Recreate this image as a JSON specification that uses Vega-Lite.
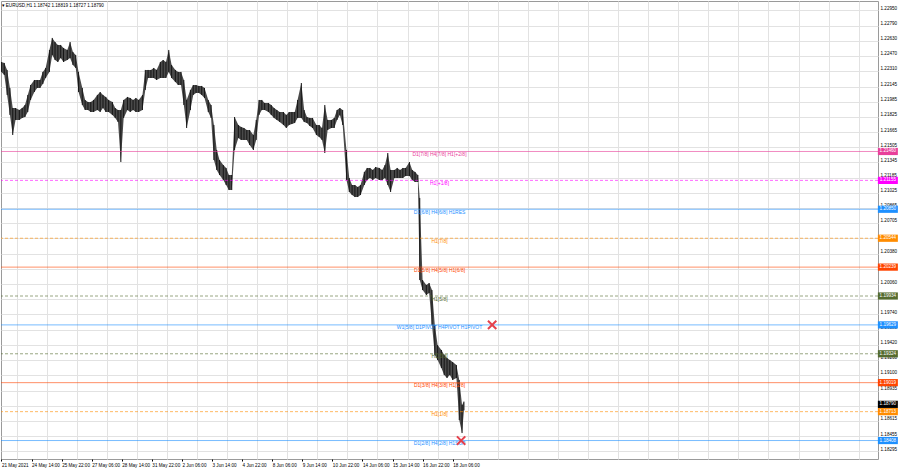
{
  "$schema": "https://vega.github.io/schema/vega-lite/v6.json",
  "width": 877,
  "height": 458,
  "autosize": {"type": "none"},
  "padding": {"left": 1, "top": 1, "right": 22, "bottom": 9},
  "background": "#ffffff",
  "title": {
    "text": "▾ EURUSD,H1  1.18742 1.18819 1.18727 1.18790",
    "anchor": "start",
    "orient": "top",
    "offset": -7,
    "dx": 1,
    "fontSize": 4.6,
    "fontWeight": "normal",
    "font": "Liberation Sans",
    "color": "#000000"
  },
  "config": {
    "view": {"stroke": "#9a9a9a"},
    "axis": {
      "domain": false,
      "labelFont": "Liberation Sans",
      "labelFontSize": 4.6,
      "labelColor": "#000000",
      "gridColor": "#e2e2e2",
      "gridWidth": 1,
      "title": null,
      "labelOverlap": false,
      "labelBound": false,
      "labelFlush": false,
      "tickCount": 1000
    }
  },
  "datasets": {
    "bars": [
      {"i":0,"h":1.22405,"l":1.22300},{"i":3,"h":1.22395,"l":1.22268},{"i":6,"h":1.22321,"l":1.22057},{"i":9,"h":1.22131,"l":1.21846},
      {"i":12,"h":1.21919,"l":1.21634},{"i":15,"h":1.21919,"l":1.21793},{"i":19,"h":1.21898,"l":1.21793},{"i":22,"h":1.21919,"l":1.21814},
      {"i":25,"h":1.21951,"l":1.21824},{"i":28,"h":1.22057,"l":1.21877},{"i":31,"h":1.22162,"l":1.22004},{"i":35,"h":1.22215,"l":1.22088},
      {"i":38,"h":1.22215,"l":1.22131},{"i":41,"h":1.22215,"l":1.22131},{"i":44,"h":1.22300,"l":1.22173},{"i":47,"h":1.22342,"l":1.22236},
      {"i":51,"h":1.22532,"l":1.22300},{"i":54,"h":1.22659,"l":1.22479},{"i":57,"h":1.22616,"l":1.22426},{"i":60,"h":1.22585,"l":1.22405},
      {"i":63,"h":1.22585,"l":1.22447},{"i":66,"h":1.22553,"l":1.22405},{"i":70,"h":1.22532,"l":1.22426},{"i":73,"h":1.22616,"l":1.22447},
      {"i":76,"h":1.22511,"l":1.22374},{"i":79,"h":1.22479,"l":1.22342},{"i":82,"h":1.22300,"l":1.22088},{"i":86,"h":1.22131,"l":1.21951},
      {"i":89,"h":1.22004,"l":1.21898},{"i":92,"h":1.21983,"l":1.21898},{"i":95,"h":1.21983,"l":1.21877},{"i":98,"h":1.22004,"l":1.21877},
      {"i":102,"h":1.22057,"l":1.21898},{"i":105,"h":1.22088,"l":1.21877},{"i":108,"h":1.22057,"l":1.21919},{"i":111,"h":1.22036,"l":1.21877},
      {"i":114,"h":1.22004,"l":1.21877},{"i":118,"h":1.21983,"l":1.21846},{"i":121,"h":1.21919,"l":1.21814},{"i":124,"h":1.21898,"l":1.21772},
      {"i":127,"h":1.21898,"l":1.21349},{"i":130,"h":1.22004,"l":1.21814},{"i":134,"h":1.22036,"l":1.21898},{"i":137,"h":1.22025,"l":1.21877},
      {"i":140,"h":1.22004,"l":1.21898},{"i":143,"h":1.22025,"l":1.21877},{"i":146,"h":1.22004,"l":1.21877},{"i":150,"h":1.22057,"l":1.21898},
      {"i":153,"h":1.22321,"l":1.22110},{"i":156,"h":1.22321,"l":1.22236},{"i":159,"h":1.22321,"l":1.22236},{"i":162,"h":1.22342,"l":1.22236},
      {"i":165,"h":1.22321,"l":1.22215},{"i":169,"h":1.22405,"l":1.22236},{"i":172,"h":1.22426,"l":1.22236},{"i":175,"h":1.22405,"l":1.22236},
      {"i":178,"h":1.22532,"l":1.22300},{"i":181,"h":1.22374,"l":1.22236},{"i":185,"h":1.22321,"l":1.22194},{"i":188,"h":1.22300,"l":1.22162},
      {"i":191,"h":1.22300,"l":1.22162},{"i":194,"h":1.22215,"l":1.21951},{"i":197,"h":1.22004,"l":1.21708},{"i":201,"h":1.22110,"l":1.21898},
      {"i":204,"h":1.22162,"l":1.22057},{"i":207,"h":1.22162,"l":1.22078},{"i":210,"h":1.22152,"l":1.22078},{"i":213,"h":1.22152,"l":1.22057},
      {"i":216,"h":1.22131,"l":1.22025},{"i":220,"h":1.22004,"l":1.21877},{"i":223,"h":1.21951,"l":1.21814},{"i":226,"h":1.21740,"l":1.21370},
      {"i":229,"h":1.21476,"l":1.21265},{"i":232,"h":1.21370,"l":1.21212},{"i":236,"h":1.21317,"l":1.21159},{"i":239,"h":1.21286,"l":1.21106},
      {"i":242,"h":1.21212,"l":1.21053},{"i":245,"h":1.21212,"l":1.21053},{"i":248,"h":1.21824,"l":1.21476},{"i":252,"h":1.21740,"l":1.21603},
      {"i":255,"h":1.21719,"l":1.21582},{"i":258,"h":1.21708,"l":1.21582},{"i":261,"h":1.21687,"l":1.21582},{"i":264,"h":1.21687,"l":1.21529},
      {"i":268,"h":1.21634,"l":1.21476},{"i":271,"h":1.21793,"l":1.21582},{"i":274,"h":1.22004,"l":1.21846},{"i":277,"h":1.22004,"l":1.21898},
      {"i":280,"h":1.21972,"l":1.21898},{"i":284,"h":1.21972,"l":1.21877},{"i":287,"h":1.21951,"l":1.21846},{"i":290,"h":1.21919,"l":1.21814},
      {"i":293,"h":1.21898,"l":1.21793},{"i":296,"h":1.21877,"l":1.21772},{"i":300,"h":1.21877,"l":1.21740},{"i":303,"h":1.21846,"l":1.21708},
      {"i":306,"h":1.21877,"l":1.21740},{"i":309,"h":1.21877,"l":1.21750},{"i":312,"h":1.21877,"l":1.21761},{"i":315,"h":1.22004,"l":1.21814},
      {"i":319,"h":1.22183,"l":1.21814},{"i":322,"h":1.21898,"l":1.21772},{"i":325,"h":1.21824,"l":1.21761},{"i":328,"h":1.21814,"l":1.21729},
      {"i":331,"h":1.21814,"l":1.21708},{"i":335,"h":1.21740,"l":1.21634},{"i":338,"h":1.21740,"l":1.21613},{"i":341,"h":1.21708,"l":1.21582},
      {"i":344,"h":1.21951,"l":1.21444},{"i":347,"h":1.21793,"l":1.21687},{"i":351,"h":1.21793,"l":1.21708},{"i":354,"h":1.21814,"l":1.21708},
      {"i":357,"h":1.21898,"l":1.21793},{"i":360,"h":1.21919,"l":1.21846},{"i":363,"h":1.21898,"l":1.21740},{"i":367,"h":1.21476,"l":1.21159},
      {"i":370,"h":1.21180,"l":1.21032},{"i":373,"h":1.21106,"l":1.21001},{"i":376,"h":1.21106,"l":1.20979},{"i":379,"h":1.21085,"l":1.20979},
      {"i":382,"h":1.21106,"l":1.21001},{"i":386,"h":1.21244,"l":1.21106},{"i":389,"h":1.21286,"l":1.21159},{"i":392,"h":1.21286,"l":1.21180},
      {"i":395,"h":1.21265,"l":1.21159},{"i":398,"h":1.21296,"l":1.21180},{"i":402,"h":1.21286,"l":1.21159},{"i":405,"h":1.21265,"l":1.21159},
      {"i":408,"h":1.21317,"l":1.21180},{"i":411,"h":1.21444,"l":1.21106},{"i":414,"h":1.21265,"l":1.21032},{"i":418,"h":1.21265,"l":1.21180},
      {"i":421,"h":1.21286,"l":1.21180},{"i":424,"h":1.21265,"l":1.21180},{"i":427,"h":1.21286,"l":1.21180},{"i":430,"h":1.21286,"l":1.21201},
      {"i":434,"h":1.21349,"l":1.21201},{"i":437,"h":1.21265,"l":1.21159},{"i":440,"h":1.21244,"l":1.21138},{"i":443,"h":1.21212,"l":1.21138},
      {"i":445,"h":1.20969,"l":1.20103},{"i":448,"h":1.20103,"l":1.19997},{"i":452,"h":1.20050,"l":1.19944},{"i":455,"h":1.20071,"l":1.19966},
      {"i":458,"h":1.19997,"l":1.19628},{"i":461,"h":1.19628,"l":1.19311},{"i":464,"h":1.19416,"l":1.19258},{"i":468,"h":1.19364,"l":1.19174},
      {"i":471,"h":1.19311,"l":1.19100},{"i":474,"h":1.19279,"l":1.19068},{"i":477,"h":1.19258,"l":1.19100},{"i":480,"h":1.19237,"l":1.19047},
      {"i":484,"h":1.19205,"l":1.19068},{"i":487,"h":1.19047,"l":1.18624},{"i":490,"h":1.18783,"l":1.18487},{"i":492,"h":1.18819,"l":1.18727}
    ],
    "levels": [
      {"p":1.21460,"lbl":"D1[7/8] H4[7/8] H1[+2/8]","lvl":"+2/8","tf":"D1"},
      {"p":1.21155,"lbl":"H1[+1/8]","lvl":"+1/8","tf":"H1"},
      {"p":1.20850,"lbl":"D1[6/8] H4[6/8] H1RES","lvl":"8/8","tf":"D1"},
      {"p":1.20544,"lbl":"H1[7/8]","lvl":"7/8","tf":"H1"},
      {"p":1.20239,"lbl":"D1[5/8] H4[5/8] H1[6/8]","lvl":"6/8","tf":"D1"},
      {"p":1.19934,"lbl":"H1[5/8]","lvl":"5/8","tf":"H1"},
      {"p":1.19629,"lbl":"W1[5/8] D1PIVOT H4PIVOT H1PIVOT","lvl":"4/8","tf":"D1"},
      {"p":1.19324,"lbl":"H1[3/8]","lvl":"3/8","tf":"H1"},
      {"p":1.19019,"lbl":"D1[3/8] H4[3/8] H1[2/8]","lvl":"2/8","tf":"D1"},
      {"p":1.18713,"lbl":"H1[1/8]","lvl":"1/8","tf":"H1"},
      {"p":1.18408,"lbl":"D1[2/8] H4[2/8] H1SUP","lvl":"0/8","tf":"D1"}
    ],
    "tags": [
      {"p":1.21460,"lvl":"+2/8"},{"p":1.21155,"lvl":"+1/8"},{"p":1.20850,"lvl":"8/8"},{"p":1.20544,"lvl":"7/8"},
      {"p":1.20239,"lvl":"6/8"},{"p":1.19934,"lvl":"5/8"},{"p":1.19629,"lvl":"4/8"},{"p":1.19324,"lvl":"3/8"},
      {"p":1.19019,"lvl":"2/8"},{"p":1.18713,"lvl":"1/8"},{"p":1.18408,"lvl":"0/8"},{"p":1.18790,"lvl":"bid"}
    ],
    "crosses": [
      {"i":522,"p":1.19629},
      {"i":489,"p":1.18408}
    ]
  },
  "layer": [
    {
      "data": {"name": "bars"},
      "mark": {"type": "area", "color": "#4a4a4a", "interpolate": "linear"},
      "encoding": {
        "x": {
          "field": "i", "type": "quantitative",
          "scale": {"domain": [-0.5, 932.5], "nice": false, "zero": false},
          "axis": {
            "orient": "bottom",
            "values": [0,16,32,48,64,80,96,112,128,144,160,176,192,208,224,240,256,272,288,304,320,336,352,368,384,400,416,432,448,464,480,496,528,560,592,624,656,688,720,752,784,816,848,880,912],
            "labelExpr": "datum.value % 32 == 0 && datum.value <= 480 ? ['21 May 2021','24 May 14:00','25 May 22:00','27 May 06:00','28 May 14:00','31 May 22:00','2 Jun 06:00','3 Jun 14:00','4 Jun 22:00','8 Jun 06:00','9 Jun 14:00','10 Jun 22:00','14 Jun 06:00','15 Jun 14:00','16 Jun 22:00','18 Jun 06:00'][datum.value / 32] : ''",
            "labelAlign": "left",
            "labelBaseline": "top",
            "labelPadding": 1,
            "tickSize": 2,
            "tickColor": "#000000",
            "tickOpacity": {"condition": {"test": "datum.value % 32 == 0 && datum.value <= 480", "value": 1}, "value": 0},
            "gridOpacity": {"condition": {"test": "datum.value % 32 == 0 && datum.value <= 480", "value": 0}, "value": 1}
          }
        },
        "y": {
          "field": "h", "type": "quantitative",
          "scale": {"domain": [1.18213, 1.23049], "nice": false, "zero": false},
          "axis": {
            "orient": "right",
            "values": [1.22950,1.22790,1.22630,1.22470,1.22310,1.22145,1.21985,1.21825,1.21665,1.21505,1.21345,1.21185,1.21025,1.20865,1.20705,1.20545,1.20380,1.20220,1.20060,1.19900,1.19740,1.19580,1.19420,1.19260,1.19100,1.18935,1.18775,1.18615,1.18455,1.18295],
            "labelExpr": "abs(datum.value - 1.20545) < 0.00001 || abs(datum.value - 1.20220) < 0.00001 || abs(datum.value - 1.19900) < 0.00001 || abs(datum.value - 1.18775) < 0.00001 ? '' : format(datum.value, '.5f')",
            "ticks": false,
            "labelPadding": 2,
            "labelAlign": "left",
            "labelBaseline": "middle",
            "labelOffset": -2
          }
        },
        "y2": {"field": "l"}
      }
    },
    {
      "data": {"name": "bars"},
      "mark": {"type": "rule", "color": "#161616", "strokeWidth": 1},
      "encoding": {
        "x": {"field": "i", "type": "quantitative"},
        "y": {"field": "h", "type": "quantitative"},
        "y2": {"field": "l"}
      }
    },
    {
      "data": {"name": "levels"},
      "mark": {"type": "rule", "strokeWidth": 1, "opacity": 0.6},
      "encoding": {
        "y": {"field": "p", "type": "quantitative"},
        "color": {
          "field": "lvl", "type": "nominal", "legend": null,
          "scale": {
            "domain": ["+2/8","+1/8","8/8","7/8","6/8","5/8","4/8","3/8","2/8","1/8","0/8","bid"],
            "range": ["#e8409a","#ff00ff","#1e90ff","#ff8c00","#ff4500","#556b2f","#1e90ff","#556b2f","#ff4500","#ff8c00","#1e90ff","#000000"]
          }
        },
        "strokeDash": {
          "field": "tf", "type": "nominal", "legend": null,
          "scale": {"domain": ["D1","H1"], "range": [[1,0],[3,2]]}
        }
      }
    },
    {
      "data": {"name": "levels"},
      "mark": {"type": "text", "font": "Liberation Sans", "fontSize": 5, "align": "center", "baseline": "top", "dy": 0.5},
      "encoding": {
        "x": {"datum": 466},
        "y": {"field": "p", "type": "quantitative"},
        "text": {"field": "lbl"},
        "color": {"field": "lvl", "type": "nominal", "legend": null}
      }
    },
    {
      "data": {"name": "crosses"},
      "mark": {"type": "point", "shape": "M-1,-1L1,1M1,-1L-1,1", "filled": false, "strokeWidth": 2, "size": 70, "color": "#e5414c", "opacity": 1},
      "encoding": {
        "x": {"field": "i", "type": "quantitative"},
        "y": {"field": "p", "type": "quantitative"}
      }
    },
    {
      "data": {"name": "tags"},
      "mark": {"type": "point", "shape": "M-1,-0.36L1,-0.36L1,0.36L-1,0.36Z", "filled": true, "size": 400, "opacity": 1, "clip": false},
      "encoding": {
        "x": {"datum": 943},
        "y": {"field": "p", "type": "quantitative"},
        "color": {"field": "lvl", "type": "nominal", "legend": null}
      }
    },
    {
      "data": {"name": "tags"},
      "mark": {"type": "text", "font": "Liberation Sans", "fontSize": 4.6, "align": "center", "baseline": "middle", "color": "#ffffff", "clip": false},
      "encoding": {
        "x": {"datum": 943},
        "y": {"field": "p", "type": "quantitative"},
        "text": {"field": "p", "type": "quantitative", "format": ".5f"}
      }
    }
  ]
}
